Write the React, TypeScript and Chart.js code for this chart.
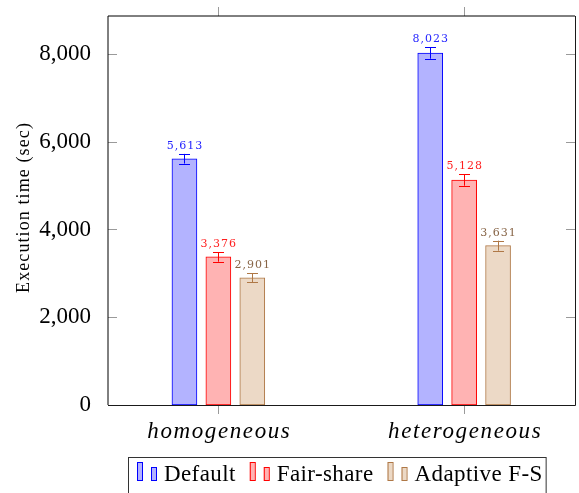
import { useEffect, useRef } from "react";
import { Chart, registerables } from "chart.js";

Chart.register(...registerables);

// Workloads on the x axis and scheduler variants as series
const CATEGORIES = ["homogeneous", "heterogeneous"];
const SERIES = ["Default", "Fair-share", "Adaptive F-S"];

// Mean execution time (sec) per workload
const DEFAULT_TIME = [5613, 8023];
const FAIR_SHARE_TIME = [3376, 5128];
const ADAPTIVE_TIME = [2901, 3631];

// Error bar half-widths (sec)
const DEFAULT_ERR = [110, 130];
const FAIR_SHARE_ERR = [110, 130];
const ADAPTIVE_ERR = [105, 115];

const Y_TICKS = [0, 2000, 4000, 6000, 8000];
const Y_TITLE = "Execution time (sec)";

// Axis extents and layout
const X_MIN = -0.449;
const X_MAX = 1.451;
const Y_MAX = 8866;
const GROUP_OFFSET = 0.138;
const BAR_WIDTH = 25;
const TICK_LEN = 9;

const STYLES = [
  { fill: "rgb(179,179,255)", line: "rgb(0,0,255)", text: "rgb(30,30,255)" },
  { fill: "rgb(255,179,179)", line: "rgb(255,0,0)", text: "rgb(255,30,30)" },
  { fill: "rgb(236,217,198)", line: "rgb(175,120,70)", text: "rgb(135,100,70)" },
];

const VALUES = [DEFAULT_TIME, FAIR_SHARE_TIME, ADAPTIVE_TIME];
const ERRORS = [DEFAULT_ERR, FAIR_SHARE_ERR, ADAPTIVE_ERR];

const fmt = (v: number) => Number(v).toLocaleString("en-US");

const decor = {
  id: "decor",
  afterDatasetsDraw(chart: any) {
    const ctx: CanvasRenderingContext2D = chart.ctx;
    const y = chart.scales.y;
    ctx.save();
    chart.data.datasets.forEach((_: any, d: number) => {
      const meta = chart.getDatasetMeta(d);
      const st = STYLES[d];
      meta.data.forEach((bar: any, i: number) => {
        const v = VALUES[d][i];
        const e = ERRORS[d][i];
        const cx = Math.round(bar.x) + 0.5;
        const top = y.getPixelForValue(v + e);
        const bot = y.getPixelForValue(v - e);
        ctx.strokeStyle = st.line;
        ctx.lineWidth = 1;
        ctx.beginPath();
        ctx.moveTo(cx, top);
        ctx.lineTo(cx, bot);
        ctx.moveTo(cx - 5.5, Math.round(top) + 0.5);
        ctx.lineTo(cx + 5.5, Math.round(top) + 0.5);
        ctx.moveTo(cx - 5.5, Math.round(bot) + 0.5);
        ctx.lineTo(cx + 5.5, Math.round(bot) + 0.5);
        ctx.stroke();

        ctx.fillStyle = st.text;
        ctx.font = "11px 'DejaVu Serif'";
        (ctx as any).letterSpacing = "1px";
        ctx.textAlign = "center";
        ctx.textBaseline = "alphabetic";
        ctx.fillText(fmt(v), bar.x + 0.5, top - 5);
        (ctx as any).letterSpacing = "0px";
      });
    });
    ctx.restore();
  },
  afterDraw(chart: any) {
    const ctx: CanvasRenderingContext2D = chart.ctx;
    const { left, right, top, bottom } = chart.chartArea;
    const x = chart.scales.x;
    const y = chart.scales.y;
    ctx.save();

    // tick marks
    ctx.strokeStyle = "#9a9a9a";
    ctx.lineWidth = 1;
    ctx.beginPath();
    Y_TICKS.forEach((t) => {
      const py = Math.round(y.getPixelForValue(t)) + 0.5;
      if (t === 0) return;
      ctx.moveTo(left, py);
      ctx.lineTo(left + TICK_LEN, py);
      ctx.moveTo(right - TICK_LEN, py);
      ctx.lineTo(right, py);
    });
    CATEGORIES.forEach((_, i) => {
      const px = Math.round(x.getPixelForValue(i)) + 0.5;
      ctx.moveTo(px, top - TICK_LEN);
      ctx.lineTo(px, top);
      ctx.moveTo(px, bottom);
      ctx.lineTo(px, bottom + TICK_LEN);
    });
    ctx.stroke();

    // axis frame
    ctx.strokeStyle = "#000";
    ctx.beginPath();
    ctx.moveTo(left, top);
    ctx.lineTo(left, bottom);
    ctx.moveTo(left, top);
    ctx.lineTo(right, top);
    ctx.stroke();
    ctx.strokeStyle = "#1a1a1a";
    ctx.beginPath();
    ctx.moveTo(right + 0.5, top);
    ctx.lineTo(right + 0.5, bottom + 0.5);
    ctx.moveTo(left, bottom + 0.5);
    ctx.lineTo(right + 0.5, bottom + 0.5);
    ctx.stroke();

    // category labels
    ctx.fillStyle = "#000";
    ctx.font = "italic 23px 'Liberation Serif'";
    (ctx as any).letterSpacing = "1.6px";
    ctx.textAlign = "center";
    ctx.textBaseline = "alphabetic";
    CATEGORIES.forEach((c, i) => {
      ctx.fillText(c, x.getPixelForValue(i) + 1, 438);
    });

    // y axis title
    ctx.save();
    ctx.translate(24, 207.5);
    ctx.rotate(-Math.PI / 2);
    ctx.font = "18px 'Liberation Serif'";
    (ctx as any).letterSpacing = "1.1px";
    ctx.textBaseline = "middle";
    ctx.textAlign = "center";
    ctx.fillText(Y_TITLE, 0, 0);
    ctx.restore();

    // legend
    ctx.font = "23px 'Liberation Serif'";
    (ctx as any).letterSpacing = "0.4px";
    ctx.textAlign = "left";
    ctx.textBaseline = "alphabetic";
    let sx = 137;
    const base = 481;
    SERIES.forEach((name, d) => {
      const st = STYLES[d];
      ctx.fillStyle = st.fill;
      ctx.strokeStyle = st.line;
      ctx.lineWidth = 1;
      ctx.fillRect(sx, 462, 5, 19);
      ctx.strokeRect(sx + 0.5, 462.5, 5, 18);
      ctx.fillRect(sx + 14, 467, 5, 14);
      ctx.strokeRect(sx + 14.5, 467.5, 5, 13);
      ctx.fillStyle = "#000";
      const tx = sx + 27;
      ctx.fillText(name, tx, base);
      const w = ctx.measureText(name).width;
      sx = tx + w + 14;
    });
    const legendRight = sx - 14 + 3;
    ctx.strokeStyle = "#333";
    ctx.lineWidth = 1;
    ctx.strokeRect(128.5, 457.5, legendRight - 128, 44);

    ctx.restore();
  },
};

export default function App() {
  const ref = useRef<HTMLCanvasElement>(null);

  useEffect(() => {
    const canvas = ref.current;
    if (!canvas) return;
    const chart = new Chart(canvas, {
      type: "bar",
      data: {
        datasets: SERIES.map((label, d) => ({
          label,
          data: VALUES[d].map((v, i) => ({ x: i + (d - 1) * GROUP_OFFSET, y: v })),
          backgroundColor: STYLES[d].fill,
          borderColor: STYLES[d].line,
          borderWidth: 1,
          borderSkipped: false,
          barThickness: BAR_WIDTH,
          grouped: false,
        })),
      },
      options: {
        responsive: false,
        animation: false,
        devicePixelRatio: 1,
        layout: { padding: { top: 16, right: 4, left: 0, bottom: 0 } },
        plugins: {
          legend: { display: false },
          tooltip: { enabled: false },
        },
        scales: {
          x: {
            type: "linear",
            offset: false,
            min: X_MIN,
            max: X_MAX,
            grid: { display: false },
            border: { display: false },
            ticks: { display: false },
            afterFit: (s: any) => {
              s.height = 88;
              s.paddingLeft = 0;
              s.paddingRight = 0;
            },
          },
          y: {
            min: 0,
            max: Y_MAX,
            grid: { display: false },
            border: { display: false },
            ticks: {
              color: "#000",
              padding: 9,
              font: { family: "'Liberation Serif'", size: 23 },
              callback: (v: any) => fmt(v),
            },
            afterBuildTicks: (s: any) => {
              s.ticks = Y_TICKS.map((value) => ({ value }));
            },
            afterFit: (s: any) => {
              s.width = 108;
              s.paddingTop = 0;
              s.paddingBottom = 0;
            },
          },
        },
      } as any,
      plugins: [decor],
    });
    return () => chart.destroy();
  }, []);

  return (
    <div style={{ position: "fixed", left: 0, top: 0, width: 579, height: 493, background: "#fff" }}>
      <canvas ref={ref} width={579} height={493} style={{ display: "block", width: 579, height: 493 }} />
    </div>
  );
}
